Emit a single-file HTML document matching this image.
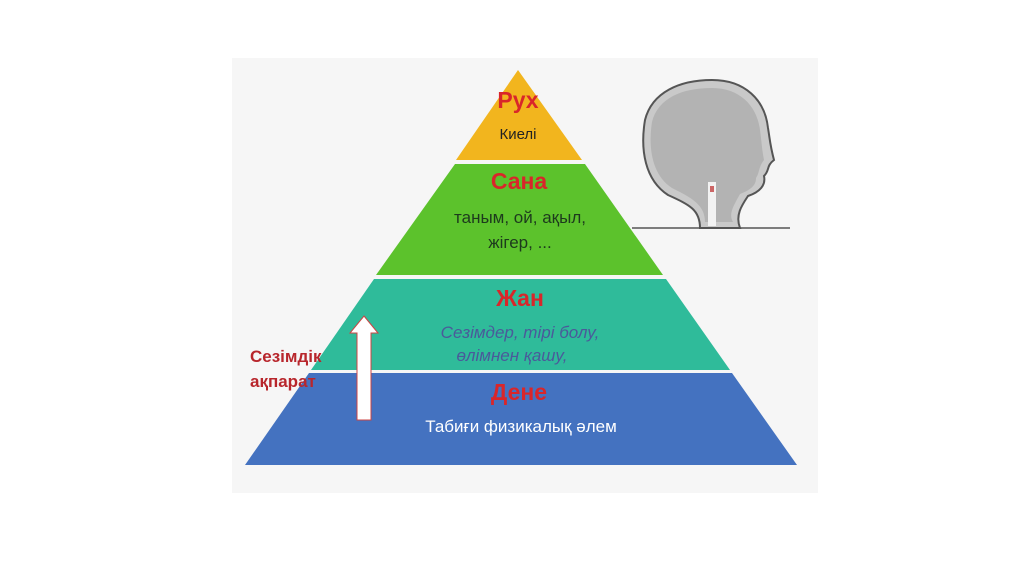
<!DOCTYPE html>
<html><head><meta charset="utf-8"><style>
body{margin:0;background:#fff;}
svg{display:block}
text{font-family:"Liberation Sans","DejaVu Sans",sans-serif;}
</style></head><body>
<svg width="1024" height="576" viewBox="0 0 1024 576" xmlns="http://www.w3.org/2000/svg">
<rect x="232" y="58" width="586" height="435" fill="#f6f6f6"/>
<polygon points="518,70 582,160 456,160" fill="#f2b51e"/>
<polygon points="455,164 585,164 663,275 376,275" fill="#5cc22c"/>
<polygon points="374,279 666,279 730,370 311,370" fill="#2fbb9a"/>
<polygon points="309,373 732,373 797,465 245,465" fill="#4472c0"/>
<!-- head sketch -->
<g>
<path d="M700,228 C700,210 690,205 668,195 C645,180 640,150 645,120 C652,92 680,80 712,80 C745,80 765,100 768,128 C770,140 770,145 774,160 C766,166 770,170 764,176 C766,185 760,192 748,196 C742,205 735,215 740,228 Z" fill="#c9c9c9" stroke="#555" stroke-width="2"/>
<path d="M705,222 C705,205 692,198 672,188 C652,175 648,148 652,122 C658,98 682,88 712,88 C740,88 757,106 760,130 C762,145 762,150 764,160 C758,168 760,172 756,178 C756,186 750,190 740,194 C734,205 728,214 733,222 Z" fill="#a9a9a9" opacity="0.7"/>
<line x1="632" y1="228" x2="790" y2="228" stroke="#555" stroke-width="1.5"/>
<rect x="708" y="182" width="8" height="44" fill="#f2f2f2"/>
<rect x="710" y="186" width="4" height="6" fill="#c66"/>
</g>
<!-- arrow -->
<polygon points="364,316 378,333 371,333 371,420 357,420 357,333 350,333" fill="#fff" stroke="#c44" stroke-width="1"/>
<g font-weight="bold" fill="#d9262a" text-anchor="middle" font-size="23">
<text x="518" y="108">Рух</text>
<text x="519" y="189">Сана</text>
<text x="520" y="306">Жан</text>
<text x="519" y="400">Дене</text>
</g>
<text x="518" y="139" text-anchor="middle" font-size="15" fill="#222">Киелі</text>
<text x="520" y="223" text-anchor="middle" font-size="17" fill="#1d3a1d">таным, ой, ақыл,</text>
<text x="520" y="248" text-anchor="middle" font-size="17" fill="#1d3a1d">жігер, ...</text>
<text x="520" y="338" text-anchor="middle" font-size="17" font-style="italic" fill="#4a5a9a">Сезімдер, тірі болу,</text>
<text x="512" y="361" text-anchor="middle" font-size="17" font-style="italic" fill="#4a5a9a">өлімнен қашу,</text>
<text x="521" y="432" text-anchor="middle" font-size="17" fill="#fff">Табиғи физикалық әлем</text>
<text x="250" y="362" font-size="17" font-weight="bold" fill="#b8262c">Сезімдік</text>
<text x="250" y="387" font-size="17" font-weight="bold" fill="#b8262c">ақпарат</text>
</svg>
</body></html>
